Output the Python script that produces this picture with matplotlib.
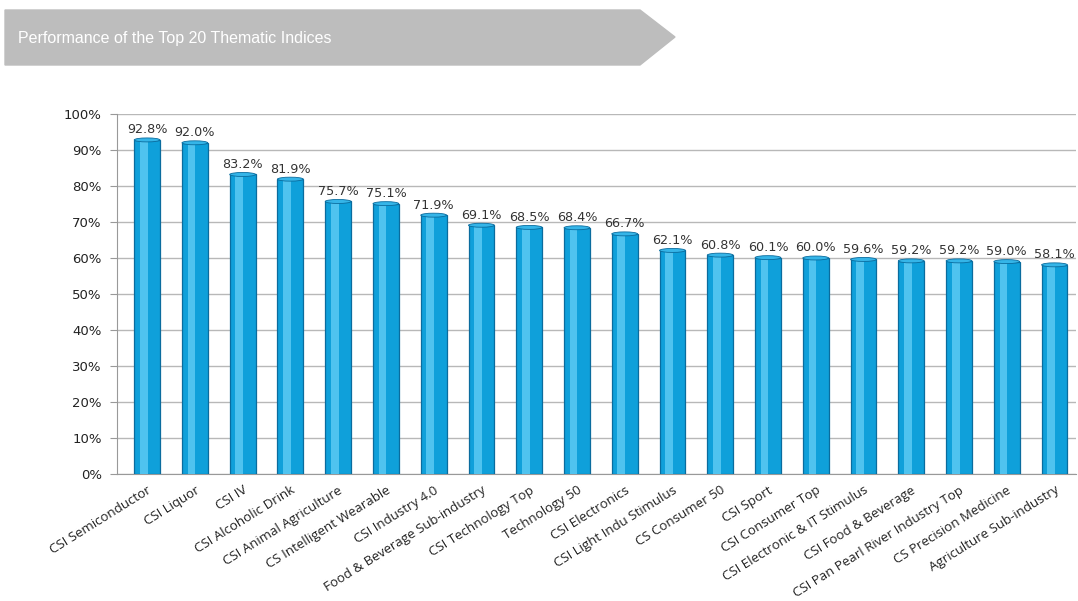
import matplotlib
matplotlib.use('Agg')
import matplotlib.pyplot as plt
from matplotlib.patches import Polygon, Ellipse

names = ['CSI Semiconductor', 'CSI Liquor', 'CSI IV', 'CSI Alcoholic Drink',
         'CSI Animal Agriculture', 'CS Intelligent Wearable', 'CSI Industry 4.0',
         'Food & Beverage Sub-industry', 'CSI Technology Top', 'Technology 50',
         'CSI Electronics', 'CSI Light Indu Stimulus', 'CS Consumer 50', 'CSI Sport',
         'CSI Consumer Top', 'CSI Electronic & IT Stimulus', 'CSI Food & Beverage',
         'CSI Pan Pearl River Industry Top', 'CS Precision Medicine',
         'Agriculture Sub-industry']
returns = [92.8, 92.0, 83.2, 81.9, 75.7, 75.1, 71.9, 69.1, 68.5, 68.4,
           66.7, 62.1, 60.8, 60.1, 60.0, 59.6, 59.2, 59.2, 59.0, 58.1]
yticks = [0, 10, 20, 30, 40, 50, 60, 70, 80, 90, 100]

W, H = 1078, 601
fig = plt.figure(figsize=(W / 100, H / 100), dpi=100)

# title banner (grey arrow)
pts = [(5, 10), (640, 10), (675, 37), (640, 65), (5, 65)]
fig.patches.append(Polygon([(x / W, 1 - y / H) for x, y in pts], closed=True,
                           transform=fig.transFigure, color='#bdbdbd', zorder=0))
fig.text(18 / W, 1 - 38 / H, 'Performance of the Top 20 Thematic Indices',
         color='white', fontsize=11.5, family='Liberation Sans', va='center')

ax = fig.add_axes([117 / W, 1 - 474 / H, (1076 - 117) / W, (474 - 114) / H])
x = list(range(len(returns)))
bw = 0.54

ax.bar(x, returns, width=bw, color='#0fa0da', edgecolor='#0a6c9e', linewidth=0.9, zorder=3)
# cylinder highlight
ax.bar([i - 0.07 for i in x], returns, width=bw * 0.3, color='#4fc3ef', linewidth=0, zorder=4)
for i, v in zip(x, returns):
    ax.add_patch(Ellipse((i, v), bw, 1.1, facecolor='#35b5e8', edgecolor='#0a6c9e',
                         linewidth=0.6, zorder=5))
    ax.text(i, v + 1.0, f'{v:.1f}%', ha='center', va='bottom', fontsize=9.2,
            color='#333333', family='DejaVu Sans', zorder=6)

ax.set_xlim(-0.63, 19.45)
ax.set_ylim(0, 100)
ax.set_yticks(yticks)
ax.set_yticklabels([f'{t}%' for t in yticks], fontsize=9.5, color='#222222')
ax.yaxis.grid(True, color='#b8b8b8', linewidth=1, zorder=0)
ax.set_axisbelow(True)

ax.set_xticks(x)
ax.set_xticklabels(names, rotation=32, ha='right', rotation_mode='anchor',
                   fontsize=9.5, family='Open Sans', color='#222222')
ax.tick_params(axis='x', length=0, pad=7)
ax.tick_params(axis='y', length=5, color='#999999', pad=6)

for s in ['top', 'right']:
    ax.spines[s].set_visible(False)
ax.spines['left'].set_color('#999999')
ax.spines['bottom'].set_color('#999999')

plt.savefig('out.png', dpi=100)
